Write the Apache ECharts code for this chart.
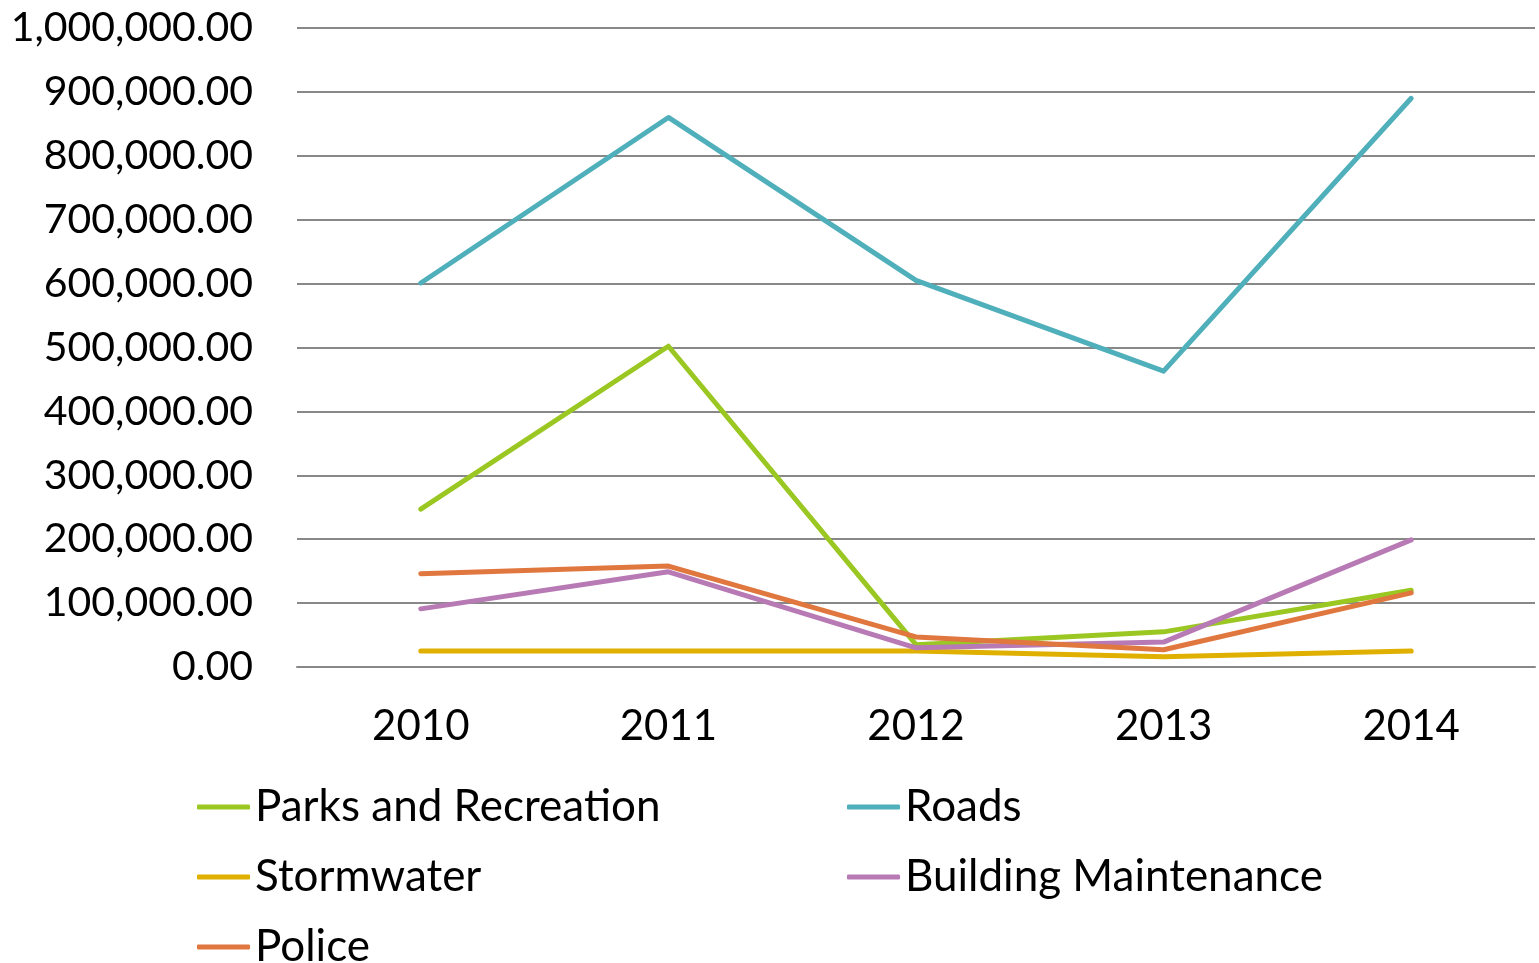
<!DOCTYPE html>
<html>
<head>
<meta charset="utf-8">
<script src="https://cdn.jsdelivr.net/npm/echarts@6/dist/echarts.min.js"></script>
<style>
  html, body { margin: 0; padding: 0; background: #fff; }
  #chart { width: 1539px; height: 963px; }
</style>
</head>
<body>
<div id="chart"></div>
<script>
const years = ['2010', '2011', '2012', '2013', '2014'];
const parks = [247000, 502000, 35000, 55000, 120000];
const roads = [601000, 860000, 605000, 463000, 890000];
const stormwater = [25000, 25000, 25000, 16000, 25000];
const building = [91000, 149000, 30000, 39000, 199000];
const police = [146000, 158000, 47000, 27000, 116000];

const font = 'Lato, "Open Sans", sans-serif';

let myChart = echarts.init(document.getElementById('chart'));

function line(name, data, color) {
  return {
    name: name,
    type: 'line',
    data: data,
    symbol: 'none',
    lineStyle: { width: 5, color: color, cap: 'round', join: 'round' },
    itemStyle: { color: color }
  };
}

let legendBase = {
  orient: 'vertical',
  top: 782,
  height: 300,
  padding: 0,
  itemWidth: 53,
  itemHeight: 5,
  itemGap: 20,
  icon: 'roundRect',
  textStyle: { fontFamily: font, fontSize: 44, color: '#000', lineHeight: 50 }
};

let option = {
  animation: false,
  grid: { left: 297, right: 4, top: 28, bottom: 296 },
  legend: [
    Object.assign({}, legendBase, { left: 197, data: ['Parks and Recreation', 'Stormwater', 'Police'] }),
    Object.assign({}, legendBase, { left: 847, data: ['Roads', 'Building Maintenance'] })
  ],
  xAxis: {
    type: 'category',
    data: years,
    boundaryGap: true,
    axisLine: { show: true, lineStyle: { color: '#888', width: 2 } },
    axisTick: { show: false },
    axisLabel: { fontFamily: font, fontSize: 42, color: '#000', margin: 38 }
  },
  yAxis: {
    type: 'value',
    min: 0,
    max: 1000000,
    interval: 100000,
    axisLine: { show: false },
    axisTick: { show: false },
    splitLine: { lineStyle: { color: '#888', width: 2 } },
    axisLabel: {
      fontFamily: font, fontSize: 41, color: '#000', margin: 44,
      formatter: v => v.toLocaleString('en-US', { minimumFractionDigits: 2, maximumFractionDigits: 2 })
    }
  },
  series: [
    line('Parks and Recreation', parks, '#9BC722'),
    line('Roads', roads, '#4FAFBA'),
    line('Stormwater', stormwater, '#E0B000'),
    line('Building Maintenance', building, '#B87AB5'),
    line('Police', police, '#E0773F')
  ]
};

option && myChart.setOption(option);
</script>
</body>
</html>
